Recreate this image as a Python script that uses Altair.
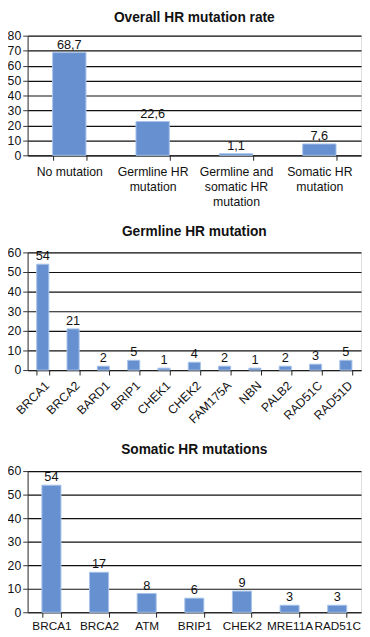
import altair as alt
import pandas as pd

# Chart 1
overall_cats = ["No mutation", "Germline HR|mutation", "Germline and|somatic HR|mutation", "Somatic HR|mutation"]
overall_vals = [68.7, 22.6, 1.1, 7.6]
overall_text = ["68,7", "22,6", "1,1", "7,6"]

# Chart 2
germ_genes = ["BRCA1", "BRCA2", "BARD1", "BRIP1", "CHEK1", "CHEK2", "FAM175A", "NBN", "PALB2", "RAD51C", "RAD51D"]
germ_vals = [54, 21, 2, 5, 1, 4, 2, 1, 2, 3, 5]

# Chart 3
som_genes = ["BRCA1", "BRCA2", "ATM", "BRIP1", "CHEK2", "MRE11A", "RAD51C"]
som_vals = [54, 17, 8, 6, 9, 3, 3]

FONT = "Liberation Sans"
BAR = "#6790d0"
STROKE = "#a8c4ea"


def panel(cats, vals, texts, title, ymax, height, width, label_angle, multiline, pad_inner, toff, xfs):
    df = pd.DataFrame({"cat": cats, "val": vals, "txt": texts})
    if multiline:
        xaxis = alt.Axis(
            title=None, labelAngle=0, tickBand="extent", tickSize=5,
            domainColor="#222", tickColor="#222", labelColor="#111", labelFontSize=xfs,
            labelFont=FONT, labelPadding=6, grid=False,
            labelExpr="split(datum.label, '|')", labelLineHeight=15, labelBaseline="top",
        )
    else:
        xaxis = alt.Axis(
            title=None, labelAngle=label_angle, tickBand="extent", tickSize=5,
            domainColor="#222", tickColor="#222", labelColor="#111", labelFontSize=xfs,
            labelFont=FONT, labelPadding=4, grid=False, labelLimit=200, labelOverlap=False,
        )
    x = alt.X("cat:N", sort=cats, axis=xaxis,
              scale=alt.Scale(paddingInner=pad_inner, paddingOuter=pad_inner / 2))
    y = alt.Y("val:Q", scale=alt.Scale(domain=[0, ymax], nice=False),
              axis=alt.Axis(title=None, values=list(range(0, ymax + 1, 10)), grid=True,
                            gridColor="#111", gridOpacity=1, gridWidth=1.2,
                            domain=True, domainColor="#333", tickColor="#333", tickSize=5,
                            labelOverlap=False, labelFlush=False,
                            labelColor="#111", labelFontSize=12.5, labelFont=FONT, labelPadding=2))
    base = alt.Chart(df)
    bars = base.mark_bar(color=BAR, stroke=STROKE, strokeWidth=1).encode(x=x, y=y)
    text = base.mark_text(dy=-8, fontSize=13, font=FONT, color="#111").encode(
        x=x, y=y, text="txt:N")
    return alt.layer(bars, text).properties(
        width=width, height=height,
        title=alt.TitleParams(title, font=FONT, fontSize=14, fontWeight="bold",
                              color="#111", anchor="middle", offset=toff),
    )


c1 = panel(overall_cats, overall_vals, overall_text, "Overall HR mutation rate", 80, 122, 340, 0, True, 0.6, 5, 12.5)
c2 = panel(germ_genes, germ_vals, [str(v) for v in germ_vals], "Germline HR mutation", 60, 120, 340, -45, False, 0.6, 8, 12.5)
c3 = panel(som_genes, som_vals, [str(v) for v in som_vals], "Somatic HR mutations", 60, 144, 340, 0, False, 0.6, 8, 12)

chart = alt.vconcat(c1, c2, c3, spacing=16).properties(
    padding={"left": -2, "top": -4, "right": 0, "bottom": 0}
).configure_view(stroke=None).configure(background="white")

chart.save("out.html", embed_options={"renderer": "svg", "actions": False})
